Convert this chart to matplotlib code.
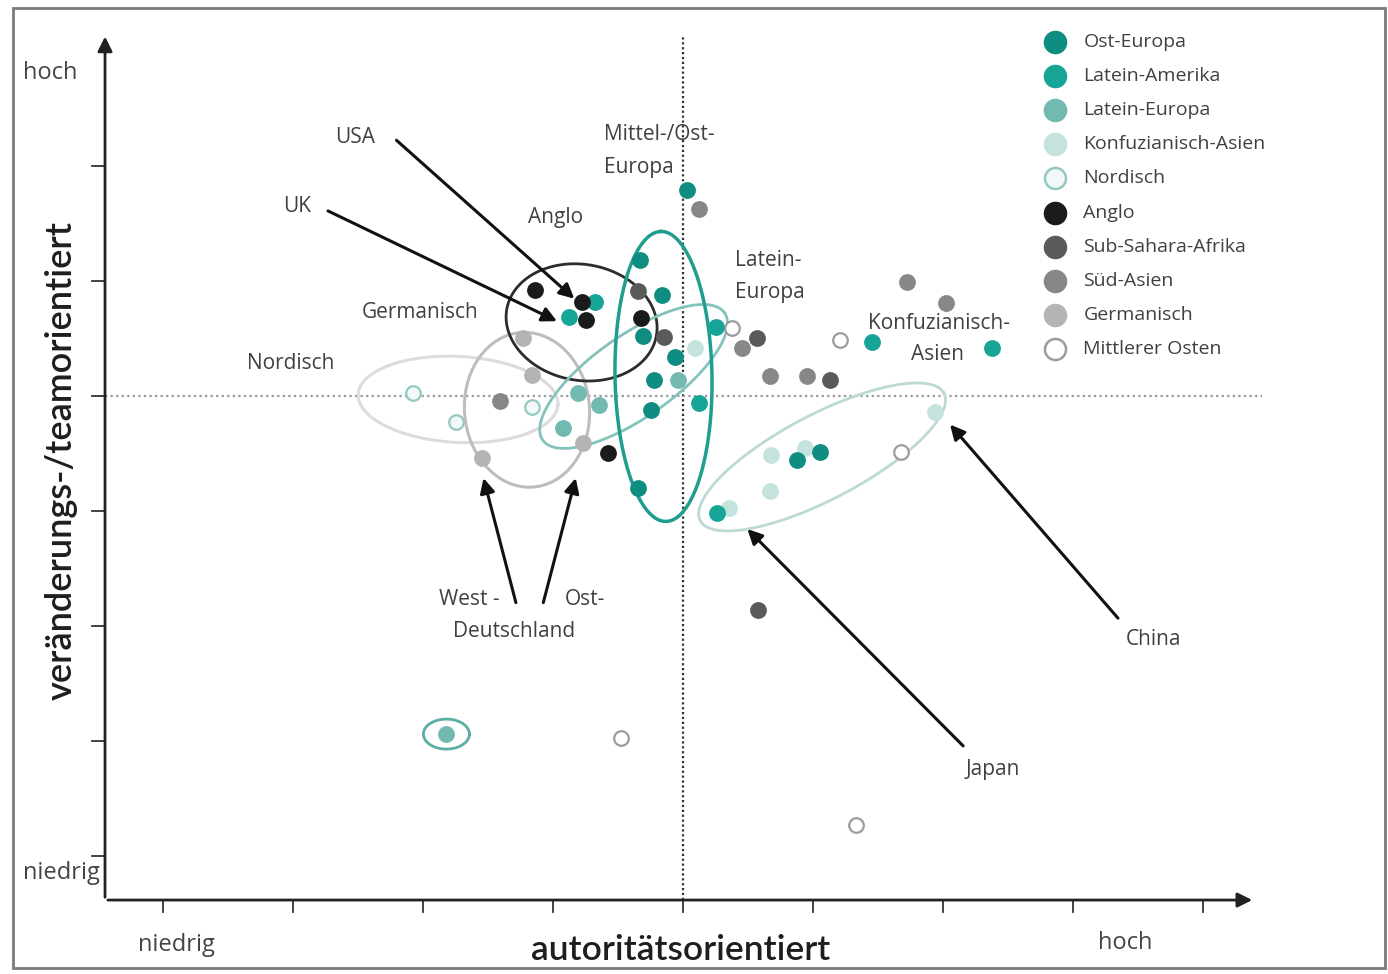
import numpy as np
import matplotlib
matplotlib.use("Agg")
import matplotlib.pyplot as plt
from matplotlib.patches import Rectangle

# pixel size of one data unit on each axis (used for on-screen ellipses)
XU, YU = 130.0, 115.0

# cluster scores (x: autoritätsorientiert, y: veränderungs-/teamorientiert)
ost_europa_x = [0.03, -0.33, -0.16, -0.31, -0.06, -0.22, -0.25, -0.35, 0.88, 1.05]
ost_europa_y = [1.79, 1.18, 0.88, 0.52, 0.34, 0.14, -0.12, -0.80, -0.56, -0.49]
latam_x = [-0.68, -0.88, 0.25, 0.12, 1.45, 2.38, 0.26]
latam_y = [0.82, 0.69, 0.60, -0.06, 0.47, 0.42, -1.02]
latein_eu_x = [-0.81, -0.65, -0.92, -1.82, -0.04]
latein_eu_y = [0.03, -0.08, -0.28, -2.94, 0.14]
konfuz_x = [0.09, 0.68, 0.67, 0.35, 1.94, 0.94]
konfuz_y = [0.42, -0.51, -0.83, -0.97, -0.14, -0.45]
nordisch_x = [-2.08, -1.75, -1.16]
nordisch_y = [0.03, -0.23, -0.10]
germanisch_x = [-1.23, -1.16, -1.55, -0.77]
germanisch_y = [0.50, 0.18, -0.54, -0.41]
sued_asien_x = [0.12, 0.45, 0.67, 0.95, 1.72, 2.02, -1.41]
sued_asien_y = [1.63, 0.42, 0.17, 0.17, 0.99, 0.81, -0.04]
subsahara_x = [-0.35, -0.15, 0.57, 1.13, 0.58]
subsahara_y = [0.91, 0.51, 0.50, 0.14, -1.86]
nahost_x = [0.38, 1.21, 1.68, -0.48, 1.33]
nahost_y = [0.59, 0.49, -0.49, -2.97, -3.73]
anglo_x = [-1.14, -0.78, -0.75, -0.32, -0.58]
anglo_y = [0.92, 0.82, 0.66, 0.68, -0.50]

legend_labels = ["Ost-Europa", "Latein-Amerika", "Latein-Europa", "Konfuzianisch-Asien",
                 "Nordisch", "Anglo", "Sub-Sahara-Afrika", "Süd-Asien", "Germanisch",
                 "Mittlerer Osten"]

x_ticks = [-4, -3, -2, -1, 0, 1, 2, 3, 4]
y_ticks = [2, 1, 0, -1, -2, -3, -4]

# (face, edge) per group, same order as the legend
styles = {
    "Ost-Europa": ("#0e8d80", "#0e8d80"),
    "Latein-Amerika": ("#17a597", "#17a597"),
    "Latein-Europa": ("#72bab1", "#72bab1"),
    "Konfuzianisch-Asien": ("#c4e2de", "#c4e2de"),
    "Nordisch": ("#f1f8f7", "#93c9c1"),
    "Anglo": ("#1b1b1b", "#1b1b1b"),
    "Sub-Sahara-Afrika": ("#5a5a5a", "#5a5a5a"),
    "Süd-Asien": ("#878787", "#878787"),
    "Germanisch": ("#b4b4b4", "#b4b4b4"),
    "Mittlerer Osten": ("#ffffff", "#9c9c9c"),
}

groups = [
    ("Nordisch", nordisch_x, nordisch_y),
    ("Mittlerer Osten", nahost_x, nahost_y),
    ("Germanisch", germanisch_x, germanisch_y),
    ("Konfuzianisch-Asien", konfuz_x, konfuz_y),
    ("Latein-Europa", latein_eu_x, latein_eu_y),
    ("Süd-Asien", sued_asien_x, sued_asien_y),
    ("Sub-Sahara-Afrika", subsahara_x, subsahara_y),
    ("Latein-Amerika", latam_x, latam_y),
    ("Ost-Europa", ost_europa_x, ost_europa_y),
    ("Anglo", anglo_x, anglo_y),
]

fig = plt.figure(figsize=(13.88, 9.74), dpi=100)
ax = fig.add_axes([0, 0, 1, 1])
ax.set_xlim(-683 / XU, (1388 - 683) / XU)
ax.set_ylim((396 - 974) / YU, 396 / YU)
ax.axis("off")

fig.patches.append(Rectangle((13 / 1388, 6 / 974), 1372 / 1388, 960 / 974,
                             transform=fig.transFigure, fill=False,
                             edgecolor="#7a7a7a", lw=2))

LAB = dict(family="Open Sans", color="#404040", fontsize=15)
LEG = dict(family="Open Sans", color="#404040", fontsize=14)


def ring(cx, cy, w, h, ang, color, lw):
    # ellipse given in screen pixels (w, h, angle), centred on data point
    t = np.linspace(0, 2 * np.pi, 200)
    a, b, th = w / 2, h / 2, np.radians(ang)
    dx = a * np.cos(t) * np.cos(th) - b * np.sin(t) * np.sin(th)
    dy = a * np.cos(t) * np.sin(th) + b * np.sin(t) * np.cos(th)
    ax.plot(cx + dx / XU, cy + dy / YU, color=color, lw=lw, zorder=2)


# axes with arrows
x0, y0 = -4.446, -4.383
ax.annotate("", xy=(x0, 3.15), xytext=(x0, y0),
            arrowprops=dict(arrowstyle="-|>", color="#222", lw=2, mutation_scale=22))
ax.annotate("", xy=(4.40, y0), xytext=(x0, y0),
            arrowprops=dict(arrowstyle="-|>", color="#222", lw=2, mutation_scale=22))
for t in x_ticks:
    ax.plot([t, t], [y0, y0 - 0.1], color="#333", lw=1.3)
for t in y_ticks:
    ax.plot([x0 - 0.1, x0], [t, t], color="#333", lw=1.3)

# reference lines
ax.plot([0, 0], [y0, 3.12], color="#333", lw=1.6, ls=(0, (1, 1.2)), zorder=1)
ax.plot([x0, 4.45], [0, 0], color="#999", lw=1.6, ls=(0, (1, 1.5)), zorder=1)

# cluster ellipses
ring(-1.73, -0.03, 200, 86, -3, "#dcdcdc", 2.2)
ring(-1.20, -0.12, 155, 125, 95, "#bdbdbd", 2.2)
ring(-0.78, 0.64, 152, 116, -10, "#2c2c2c", 2)
ring(-0.38, 0.17, 222, 82, 35, "#84c3bb", 2)
ring(-0.15, 0.17, 290, 97, 91, "#1f9d8f", 2.5)
ring(1.07, -0.53, 275, 85, 27.6, "#bcd9d5", 2)
ring(-1.82, -2.94, 46, 30, 0, "#5aaea3", 2)

for name, xs, ys in groups:
    fc, ec = styles[name]
    ax.scatter(xs, ys, s=110, c=fc, edgecolors=ec, linewidths=1.6, zorder=3)

# legend
for i, name in enumerate(legend_labels):
    fc, ec = styles[name]
    ly = 3.08 - i * 0.297
    ax.scatter([2.86], [ly], s=230, c=fc, edgecolors=ec, linewidths=1.8, zorder=3)
    ax.text(3.08, ly, name, ha="left", va="center", **LEG)

# arrows to single countries
arr = dict(arrowstyle="-|>", color="#111", lw=2.2, mutation_scale=22)
for tail, head in [((-2.22, 2.24), (-0.82, 0.83)), ((-2.75, 1.62), (-0.95, 0.64)),
                   ((-1.28, -1.82), (-1.54, -0.69)), ((-1.08, -1.82), (-0.82, -0.69)),
                   ((2.17, -3.06), (0.48, -1.14)), ((3.36, -1.95), (2.04, -0.23))]:
    ax.annotate("", xy=head, xytext=tail, arrowprops=arr, zorder=4)

# labels
ax.text(-2.52, 2.25, "USA", ha="center", va="center", **LAB)
ax.text(-2.97, 1.65, "UK", ha="center", va="center", **LAB)
ax.text(-0.98, 1.55, "Anglo", ha="center", va="center", **LAB)
ax.text(-2.02, 0.73, "Germanisch", ha="center", va="center", **LAB)
ax.text(-3.02, 0.28, "Nordisch", ha="center", va="center", **LAB)
ax.text(-0.61, 2.27, "Mittel-/Ost-", ha="left", va="center", **LAB)
ax.text(-0.61, 1.99, "Europa", ha="left", va="center", **LAB)
ax.text(0.40, 1.18, "Latein-", ha="left", va="center", **LAB)
ax.text(0.40, 0.90, "Europa", ha="left", va="center", **LAB)
ax.text(1.42, 0.63, "Konfuzianisch-", ha="left", va="center", **LAB)
ax.text(1.96, 0.36, "Asien", ha="center", va="center", **LAB)
ax.text(-1.88, -1.77, "West -", ha="left", va="center", **LAB)
ax.text(-0.91, -1.77, "Ost-", ha="left", va="center", **LAB)
ax.text(-1.30, -2.05, "Deutschland", ha="center", va="center", **LAB)
ax.text(2.38, -3.25, "Japan", ha="center", va="center", **LAB)
ax.text(3.62, -2.12, "China", ha="center", va="center", **LAB)

AX = dict(family="Open Sans", color="#444", fontsize=17)
ax.text(-4.87, 2.81, "hoch", ha="center", va="center", **AX)
ax.text(-4.78, -4.15, "niedrig", ha="center", va="center", **AX)
ax.text(-3.90, -4.77, "niedrig", ha="center", va="center", **AX)
ax.text(3.40, -4.76, "hoch", ha="center", va="center", **AX)

ax.text(-0.02, -4.82, "autoritätsorientiert", ha="center", va="center",
        family="Lato", fontsize=25.5, color="#1e1e1e", fontweight="semibold")
ax.text(-4.78, -0.56, "veränderungs-/teamorientiert", ha="center", va="center",
        rotation=90, family="Lato", fontsize=26, color="#1e1e1e", fontweight="semibold")

fig.savefig("out.png", dpi=100)
